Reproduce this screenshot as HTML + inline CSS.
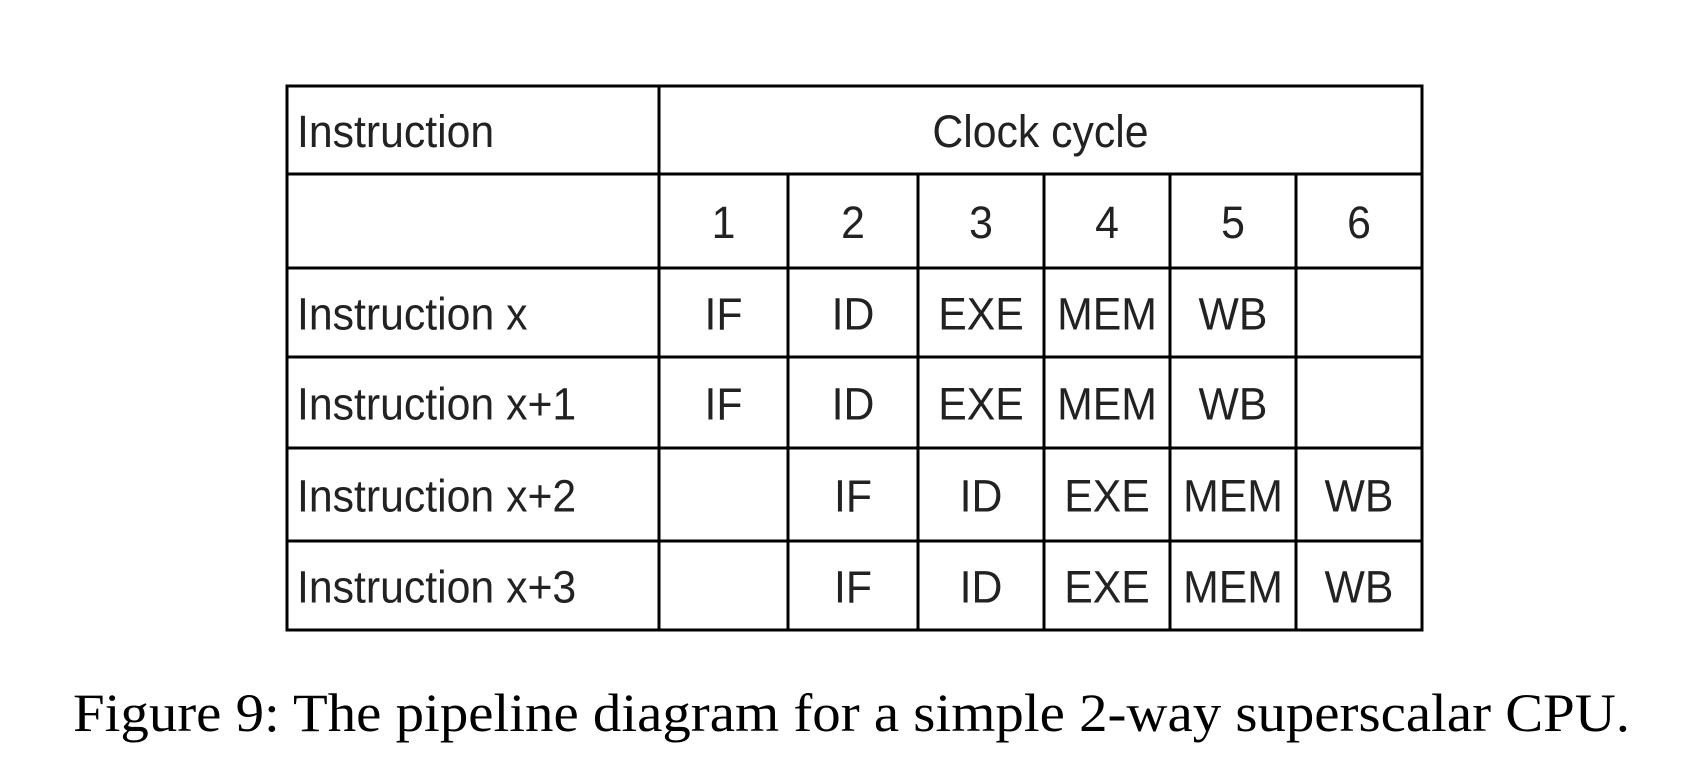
<!DOCTYPE html>
<html><head><meta charset="utf-8"><style>
html,body{margin:0;padding:0;background:#fff;}
svg{display:block;}
</style></head><body>
<svg width="1690" height="784" viewBox="0 0 1690 784">
<g id="grid" stroke="#000" stroke-width="3" fill="none"></g>
<g id="txt" font-family="Liberation Sans, Arial, sans-serif" font-size="45" fill="#222"></g>
<text x="73" y="731" font-family="Liberation Serif, serif" font-size="54" fill="#000" textLength="1557" lengthAdjust="spacingAndGlyphs">Figure 9: The pipeline diagram for a simple 2-way superscalar CPU.</text>
</svg>
<script>
const rowNames = ["Instruction x","Instruction x+1","Instruction x+2","Instruction x+3"];
const cycles = ["1","2","3","4","5","6"];
const stages = [
  ["IF","ID","EXE","MEM","WB",""],
  ["IF","ID","EXE","MEM","WB",""],
  ["","IF","ID","EXE","MEM","WB"],
  ["","IF","ID","EXE","MEM","WB"]
];
const rows=[86,174,268,357,448,541,630];
const cols=[287,659,788,918,1044,1170,1296,1422];
const NS="http://www.w3.org/2000/svg";
const g=document.getElementById('grid'), t=document.getElementById('txt');
function line(x1,y1,x2,y2,name){
  const l=document.createElementNS(NS,'line');
  l.setAttribute('x1',x1);l.setAttribute('y1',y1);l.setAttribute('x2',x2);l.setAttribute('y2',y2);
  
  
  g.appendChild(l);
}
function text(s,x,y,anchor,name){
  const e=document.createElementNS(NS,'text');
  e.setAttribute('x',x);e.setAttribute('y',y);e.setAttribute('text-anchor',anchor);
  e.textContent=s;
  
  
  t.appendChild(e);
  const w=e.getComputedTextLength();
  if(w>0){e.setAttribute('textLength',(w*0.95).toFixed(1));e.setAttribute('lengthAdjust','spacingAndGlyphs');}
}
rows.forEach((y,i)=>line(cols[0]-1.5,y,cols[7]+1.5,y,'row-line'));
line(cols[0],rows[0],cols[0],rows[6],'col-line');
line(cols[1],rows[0],cols[1],rows[6],'col-line');
line(cols[7],rows[0],cols[7],rows[6],'col-line');
for(let c=2;c<7;c++) line(cols[c],rows[1],cols[c],rows[6],'col-line');
const base=(r)=>(rows[r]+rows[r+1])/2+17;
text("Instruction",297,base(0),'start','instruction-header');
text("Clock cycle",(cols[1]+cols[7])/2,base(0),'middle','clock-cycle-header');
cycles.forEach((c,i)=>text(c,(cols[i+1]+cols[i+2])/2,base(1),'middle','cycle-number'));
rowNames.forEach((n,r)=>{
  text(n,297,base(r+2),'start','instruction-label');
  stages[r].forEach((s,i)=>{ if(s) text(s,(cols[i+1]+cols[i+2])/2,base(r+2),'middle','stage-cell'); });
});
</script>
</body></html>
